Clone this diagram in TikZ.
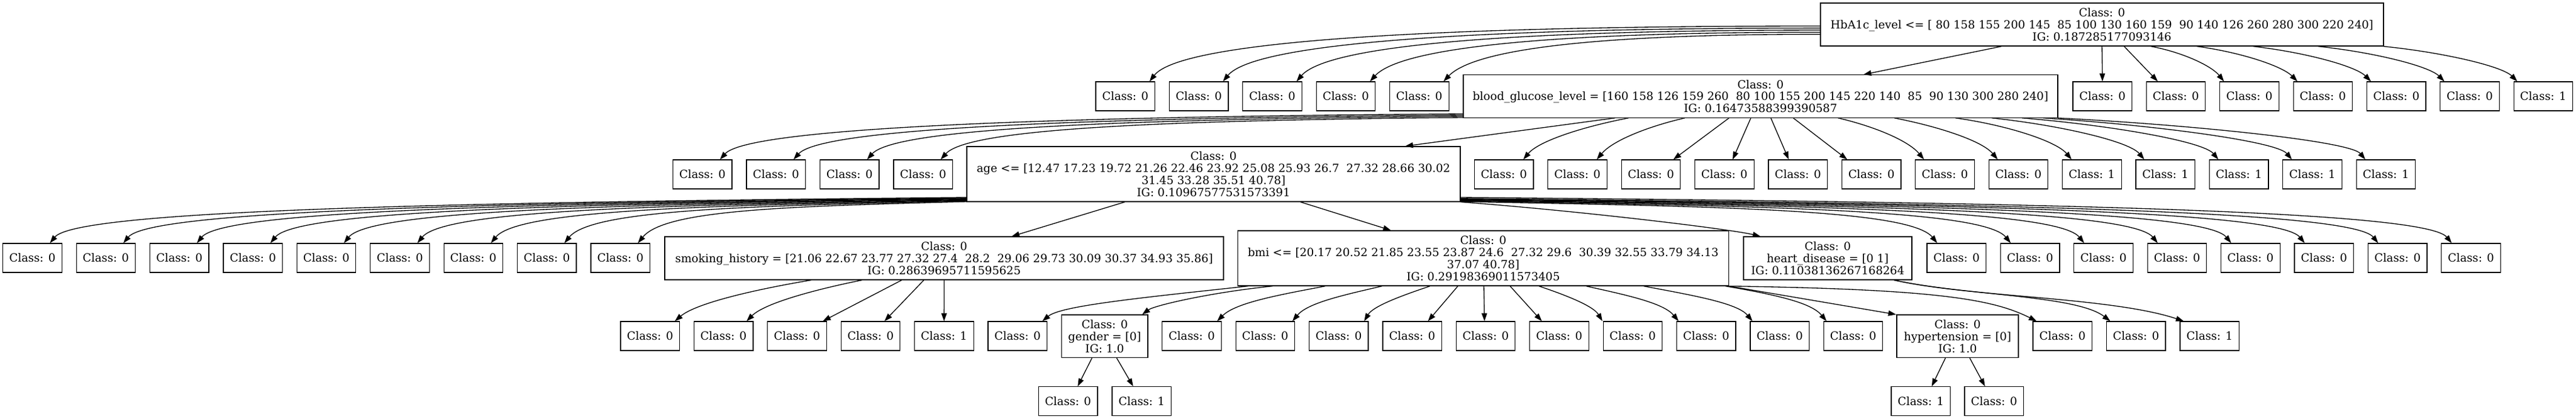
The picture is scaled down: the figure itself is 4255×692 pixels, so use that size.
\documentclass[tikz,border=0pt]{standalone}
\usepackage{fontspec}
\setmainfont{DejaVu Serif}
\usetikzlibrary{arrows.meta}
\newcommand\fsz{\fontsize{18.6pt}{19.9pt}\selectfont}
\newcommand\cedge[6]{\draw[edge] ([shift={(#2)}]#1) .. controls +(#3) and +(#4) .. ([shift={(#6,0)}]#5.north);}
\newcommand\sedge[4]{\draw[edge] ([shift={(#2)}]#1) -- ([shift={(#4,0)}]#3.north);}
\tikzset{
  box/.style={draw=black, line width=1.2pt, inner sep=0pt, align=center, font=\fsz},
  leaf/.style={box, minimum width=97.5pt, minimum height=48pt},
  edge/.style={line width=1.33pt, -{Triangle[length=13pt,width=9pt]}}
}
\begin{document}
\begin{tikzpicture}[x=1pt,y=-1pt]
\fill[white] (0,0) rectangle (4255,692);
\useasboundingbox (0,0) rectangle (4255,692);

% ---------- inner nodes ----------
\node[box, minimum width=930pt, minimum height=71pt] (root) at (3472,40.5)
 {Class: 0\\HbA1c\_level <= [ 80 158 155 200 145\ \ 85 100 130 160 159\ \ 90 140 126 260 280 300 220 240]\\IG: 0.187285177093146};
\node[box, minimum width=982pt, minimum height=70.5pt] (bg) at (2908,159)
 {Class: 0\\blood\_glucose\_level = [160 158 126 159 260\ \ 80 100 155 200 145 220 140\ \ 85\ \ 90 130 300 280 240]\\IG: 0.16473588399390587};
\node[box, minimum width=815pt, minimum height=91pt] (age) at (2004.5,287.5)
 {Class: 0\\age <= [12.47 17.23 19.72 21.26 22.46 23.92 25.08 25.93 26.7\ \ 27.32 28.66 30.02\\31.45 33.28 35.51 40.78]\\IG: 0.10967577531573391};
\node[box, minimum width=923pt, minimum height=71pt] (smoking) at (1559.5,426.5)
 {Class: 0\\smoking\_history = [21.06 22.67 23.77 27.32 27.4\ \ 28.2\ \ 29.06 29.73 30.09 30.37 34.93 35.86]\\IG: 0.28639695711595625};
\node[box, minimum width=811pt, minimum height=91pt] (bmi) at (2450,426.5)
 {Class: 0\\bmi <= [20.17 20.52 21.85 23.55 23.87 24.6\ \ 27.32 29.6\ \ 30.39 32.55 33.79 34.13\\37.07 40.78]\\IG: 0.29198369011573405};
\node[box, minimum width=278pt, minimum height=71pt] (heart) at (3019,426.5)
 {Class: 0\\heart\_disease = [0 1]\\IG: 0.11038136267168264};
\node[box, minimum width=142.6pt, minimum height=70.5pt] (gender) at (1824.7,555.25)
 {Class: 0\\gender = [0]\\IG: 1.0};
\node[box, minimum width=201pt, minimum height=70.5pt] (hyp) at (3233.5,555.25)
 {Class: 0\\hypertension = [0]\\IG: 1.0};

% ---------- leaves ----------
\foreach \n/\x/\t in {r1/1858.75/0,r2/1980.15/0,r3/2101.55/0,r4/2222.95/0,r5/2344.35/0,
  r7/3472.75/0,r8/3594.1/0,r9/3715.45/0,r10/3836.8/0,r11/3958.15/0,r12/4079.5/0,r13/4200.85/1}
  \node[leaf] (\n) at (\x,159) {Class: \t};
\foreach \n/\x/\t in {b1/1160.25/0,b2/1281.75/0,b3/1403.25/0,b4/1524.75/0,
  c1/2484.15/0,c2/2605.55/0,c3/2726.95/0,c4/2848.35/0,c5/2969.75/0,c6/3091.15/0,c7/3212.55/0,c8/3333.95/0,
  c9/3455.35/1,c10/3576.75/1,c11/3698.15/1,c12/3819.55/1,c13/3940.95/1}
  \node[leaf] (\n) at (\x,288) {Class: \t};
\foreach \n/\x/\t in {a1/53.5/0,a2/174.9/0,a3/296.3/0,a4/417.7/0,a5/539.1/0,a6/660.5/0,a7/781.9/0,a8/903.3/0,a9/1024.7/0,
  d1/3231.75/0,d2/3353.15/0,d3/3474.55/0,d4/3595.95/0,d5/3717.35/0,d6/3838.75/0,d7/3960.15/0,d8/4081.55/0}
  \node[leaf] (\n) at (\x,426) {Class: \t};
\foreach \n/\x/\t in {s1/1073.75/0,s2/1195.15/0,s3/1316.55/0,s4/1437.95/0,s5/1559.35/1,
  m1/1680.75/0,m3/1968.45/0,m4/2089.85/0,m5/2211.25/0,m6/2332.65/0,m7/2454.05/0,m8/2575.45/0,
  m9/2696.85/0,m10/2818.25/0,m11/2939.65/0,m12/3061.05/0,m14/3406.75/0,h1/3528.15/0,h2/3649.75/1}
  \node[leaf] (\n) at (\x,555) {Class: \t};
\foreach \n/\x/\t in {g1/1764.15/0,g2/1885.75/1,y1/3172.75/1,y2/3293.75/0}
  \node[leaf] (\n) at (\x,662.65) {Class: \t};

% ---------- edges: root ----------
\cedge{root.west}{0,2.5}{-665,0}{51,-65}{r1}{40}
\cedge{root.west}{0,5.9}{-592,0}{51,-62}{r2}{40}
\cedge{root.west}{0,9.3}{-518,0}{51,-59}{r3}{40}
\cedge{root.west}{0,12.7}{-446,0}{51,-56}{r4}{40}
\cedge{root.west}{0,16.1}{-373,0}{51,-53}{r5}{40}
\sedge{root.south}{-166,0}{bg}{170}
\sedge{root.south}{0,0}{r7}{0}
\sedge{root.south}{36.6,0}{r8}{-30}
\cedge{root.south}{80.7,0}{54,10}{-20,-25}{r9}{-42}
\cedge{root.south}{156.7,0}{74,10}{-25,-25}{r10}{-42}
\cedge{root.south}{249.6,0}{87,10}{-25,-25}{r11}{-42}
\cedge{root.south}{356.8,0}{94,10}{-25,-25}{r12}{-42}
\cedge{root.south}{465,0}{99,10}{-25,-25}{r13}{-43}

% ---------- edges: blood glucose ----------
\cedge{bg.west}{0,29}{-737,5}{45,-50}{b1}{29}
\cedge{bg.west}{0,31}{-664,5}{45,-50}{b2}{29}
\cedge{bg.west}{0,33}{-591,5}{45,-50}{b3}{29}
\cedge{bg.west}{0,35}{-518,5}{45,-50}{b4}{29}
\sedge{bg.south}{-240.5,0}{age}{316.5}
\cedge{bg.south}{-218,0}{-78,15}{25,-30}{c1}{32}
\cedge{bg.south}{-125,0}{-65,15}{25,-30}{c2}{32}
\sedge{bg.south}{-52,0}{c3}{37}
\sedge{bg.south}{-16,0}{c4}{13.6}
\sedge{bg.south}{17,0}{c5}{-15.2}
\sedge{bg.south}{54,0}{c6}{-40}
\cedge{bg.south}{128,0}{64,15}{-25,-30}{c7}{-34.5}
\cedge{bg.south}{221,0}{77,15}{-25,-30}{c8}{-34.3}
\cedge{bg.south}{322,0}{86,12}{-25,-30}{c9}{-33.6}
\cedge{bg.south}{382,0}{113,12}{-25,-30}{c10}{-35}
\cedge{bg.south}{432,0}{146,12}{-25,-30}{c11}{-34}
\cedge{bg.south}{467,0}{185,12}{-25,-30}{c12}{-34}
\cedge{bg.south}{491,0}{229,12}{-25,-30}{c13}{-34}

% ---------- edges: age ----------
\cedge{age.west}{0,38.5}{-833,8}{45,-55}{a1}{29}
\cedge{age.west}{0,39.4}{-766,8}{45,-55}{a2}{29}
\cedge{age.west}{0,40.3}{-699,8}{45,-55}{a3}{29}
\cedge{age.west}{0,41.1}{-633,8}{45,-55}{a4}{29}
\cedge{age.west}{0,42}{-566,8}{45,-55}{a5}{29}
\cedge{age.west}{0,42.9}{-499,8}{45,-55}{a6}{29}
\cedge{age.west}{0,43.7}{-432,8}{45,-55}{a7}{29}
\cedge{age.west}{0,44.6}{-366,8}{45,-55}{a8}{29}
\cedge{age.west}{0,45.5}{-299,8}{45,-55}{a9}{29}
\sedge{age.south}{-146.5,0}{smoking}{111.5}
\sedge{age.south}{143.5,0}{bmi}{-152.4}
\cedge{age.south east}{0,0}{200,15}{-50,-12}{heart}{-111}
\cedge{age.east}{0,45.5}{433,8}{-45,-55}{d1}{-32}
\cedge{age.east}{0,44.6}{500,8}{-45,-55}{d2}{-32}
\cedge{age.east}{0,43.7}{567,8}{-45,-55}{d3}{-32}
\cedge{age.east}{0,42.9}{634,8}{-45,-55}{d4}{-32}
\cedge{age.east}{0,42}{700,8}{-45,-55}{d5}{-32}
\cedge{age.east}{0,41.1}{767,8}{-45,-55}{d6}{-32}
\cedge{age.east}{0,40.3}{834,8}{-45,-55}{d7}{-32}
\cedge{age.east}{0,38.5}{901,8}{-45,-55}{d8}{-32}

% ---------- edges: smoking ----------
\cedge{smoking.south}{-219.5,0}{-90,15}{35,-30}{s1}{41}
\cedge{smoking.south}{-135.5,0}{-75,15}{30,-30}{s2}{38}
\sedge{smoking.south}{-70,0}{s3}{42.5}
\sedge{smoking.south}{-33.5,0}{s4}{23}
\sedge{smoking.south}{0,0}{s5}{0}

% ---------- edges: bmi ----------
\cedge{bmi.south}{-388.5,0}{-186,20}{30,-25}{m1}{41}
\cedge{bmi.south}{-348,0}{-100,10}{20,-15}{gender}{62}
\cedge{bmi.south}{-261,0}{-80,15}{30,-30}{m3}{42}
\cedge{bmi.south}{-167.3,0}{-65,15}{25,-30}{m4}{45}
\cedge{bmi.south}{-88,0}{-45,15}{15,-25}{m5}{42}
\sedge{bmi.south}{-42,0}{m6}{26}
\sedge{bmi.south}{1,0}{m7}{-2}
\sedge{bmi.south}{44.4,0}{m8}{-28.7}
\cedge{bmi.south}{92,0}{45,15}{-15,-25}{m9}{-50}
\cedge{bmi.south}{170,0}{68,15}{-25,-30}{m10}{-45.6}
\cedge{bmi.south}{265,0}{80,15}{-25,-30}{m11}{-45}
\cedge{bmi.south}{400,0}{88,15}{-25,-30}{m12}{-44}
\sedge{bmi.south east}{0,0}{hyp}{-101.5}
\cedge{bmi.south east}{0,0}{350,5}{-70,-35}{m14}{-42.7}

% ---------- edges: heart disease ----------
\cedge{heart.south}{109.6,0}{121,26}{-56,-43}{h1}{-42.5}
\cedge{heart.south}{109.6,0}{121,28}{-120,-40}{h2}{-42.7}

% ---------- edges: gender, hypertension ----------
\sedge{gender.south}{-21,0}{g1}{16}
\sedge{gender.south}{19.7,0}{g2}{-14}
\sedge{hyp.south}{-20,0}{y1}{18}
\sedge{hyp.south}{20,0}{y2}{-15}
\end{tikzpicture}
\end{document}
